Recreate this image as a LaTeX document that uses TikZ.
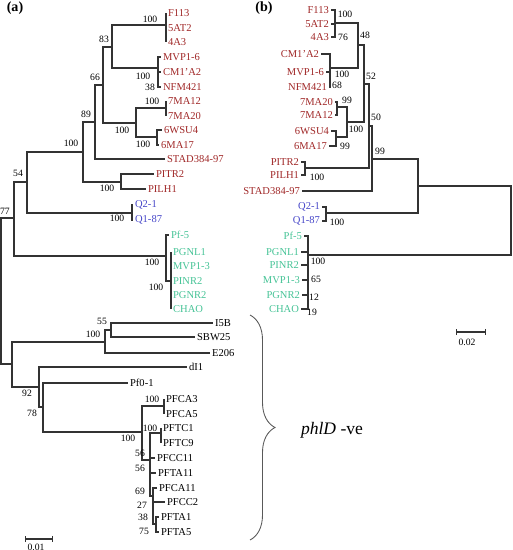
\documentclass[tikz,border=0pt]{standalone}
\usepackage{fontspec}
\setmainfont{Liberation Serif}
\usetikzlibrary{arrows.meta,decorations.pathreplacing}
\definecolor{strred}{RGB}{160,40,40}
\definecolor{strblue}{RGB}{70,70,200}
\definecolor{strgreen}{RGB}{70,195,150}

\begin{document}
\begin{tikzpicture}[x=0.02cm,y=-0.02cm,
  every node/.style={font=\fontsize{6}{7}\selectfont,inner sep=1pt},
  br/.style={line width=0.6pt,black!80},
  la/.style={anchor=west},
  lb/.style={anchor=east},
  bs/.style={font=\fontsize{5.5}{6}\selectfont,inner sep=0pt}]
\useasboundingbox (0,0) rectangle (512,550);
\node[font=\fontsize{8}{9}\selectfont\bfseries] (pa) at (15,8) {(a)};
\node[font=\fontsize{8}{9}\selectfont\bfseries] (pb) at (264,8) {(b)};

% tree (a)
\node[la,text=strred] (aF113) at (166,13) {F113};
\node[la,text=strred] (a5AT2) at (166,28) {5AT2};
\node[la,text=strred] (a4A3) at (166,42) {4A3};
\node[la,text=strred] (aMVP6) at (161,57) {MVP1-6};
\node[la,text=strred] (aCM) at (161,72) {CM1'A2};
\node[la,text=strred] (aNFM) at (161,87) {NFM421};
\node[la,text=strred] (a7M12) at (166,101) {7MA12};
\node[la,text=strred] (a7M20) at (166,116) {7MA20};
\node[la,text=strred] (a6WS) at (162,130) {6WSU4};
\node[la,text=strred] (a6MA) at (159,145) {6MA17};
\node[la,text=strred] (aSTAD) at (165,159) {STAD384-97};
\node[la,text=strred] (aPITR) at (154,174) {PITR2};
\node[la,text=strred] (aPILH) at (146,189) {PILH1};
\node[la,text=strblue] (aQ21) at (133,205) {Q2-1};
\node[la,text=strblue] (aQ187) at (133,220) {Q1-87};
\node[la,text=strgreen] (aPf5) at (169,235) {Pf-5};
\node[la,text=strgreen] (aPGNL) at (171,252) {PGNL1};
\node[la,text=strgreen] (aMVP3) at (171,266) {MVP1-3};
\node[la,text=strgreen] (aPINR) at (171,281) {PINR2};
\node[la,text=strgreen] (aPGNR) at (171,295) {PGNR2};
\node[la,text=strgreen] (aCHAO) at (171,309) {CHAO};
\node[la] (aI5B) at (213,323) {I5B};
\node[la] (aSBW) at (195,337) {SBW25};
\node[la] (aE206) at (210,353) {E206};
\node[la] (adI1) at (187,367) {dI1};
\node[la] (aPf01) at (128,383) {Pf0-1};
\node[la] (aPFCA3) at (164,399) {PFCA3};
\node[la] (aPFCA5) at (164,414) {PFCA5};
\node[la] (aPFTC1) at (161,428) {PFTC1};
\node[la] (aPFTC9) at (161,443) {PFTC9};
\node[la] (aPFCC11) at (155,458) {PFCC11};
\node[la] (aPFTA11) at (156,473) {PFTA11};
\node[la] (aPFCA11) at (157,488) {PFCA11};
\node[la] (aPFCC2) at (165,502) {PFCC2};
\node[la] (aPFTA1) at (159,517) {PFTA1};
\node[la] (aPFTA5) at (159,532) {PFTA5};

\coordinate (aF) at (166,25);
\coordinate (aM) at (158,68);
\coordinate (a83) at (112,47);
\coordinate (a7) at (166,108);
\coordinate (a6) at (157,137);
\coordinate (a7w) at (136,123);
\coordinate (a66) at (103,85);
\coordinate (a89) at (95,122);
\coordinate (aP) at (121,182);
\coordinate (aD) at (83,152);
\coordinate (aQ) at (132,213);
\coordinate (a54) at (27,182);
\coordinate (aPg) at (171,281);
\coordinate (aPf) at (166,256);
\coordinate (a77) at (14,218);
\coordinate (a55) at (111,330);
\coordinate (aI) at (105,342);
\coordinate (aCA) at (164,406);
\coordinate (aTC) at (161,433);
\coordinate (aTA) at (156,524);
\coordinate (aPL) at (153,496);
\coordinate (aPJ) at (150,460);
\coordinate (aPI) at (142,432);
\coordinate (a43) at (43,407);
\coordinate (a39) at (39,387);
\coordinate (a92) at (12,364);
\coordinate (aR) at (1,291);

\draw[br] (aF) |- (aF113.west) (aF) |- (a5AT2.west) (aF) |- (a4A3.west);
\draw[br] (aM) |- (aMVP6.west) (aM) |- (aCM.west) (aM) |- (aNFM.west);
\draw[br] (a83) |- (aF) (a83) |- (aM);
\draw[br] (a7) |- (a7M12.west) (a7) |- (a7M20.west);
\draw[br] (a6) |- (a6WS.west) (a6) |- (a6MA.west);
\draw[br] (a7w) |- (a7) (a7w) |- (a6);
\draw[br] (a66) |- (a83) (a66) |- (a7w);
\draw[br] (a89) |- (a66) (a89) |- (aSTAD.west);
\draw[br] (aP) |- (aPITR.west) (aP) |- (aPILH.west);
\draw[br] (aD) |- (a89) (aD) |- (aP);
\draw[br] (aQ) |- (aQ21.west) (aQ) |- (aQ187.west);
\draw[br] (a54) |- (aD) (a54) |- (aQ);
\draw[br] (aPg) |- (aPGNL.west) (aPg) |- (aMVP3.west) (aPg) |- (aPINR.west)
  (aPg) |- (aPGNR.west) (aPg) |- (aCHAO.west);
\draw[br] (aPf) |- (aPf5.west) (aPf) |- (aPg);
\draw[br] (a77) |- (a54) (a77) |- (aPf);
\draw[br] (a55) |- (aI5B.west) (a55) |- (aSBW.west);
\draw[br] (aI) |- (a55) (aI) |- (aE206.west);
\draw[br] (aCA) |- (aPFCA3.west) (aCA) |- (aPFCA5.west);
\draw[br] (aTC) |- (aPFTC1.west) (aTC) |- (aPFTC9.west);
\draw[br] (aTA) |- (aPFTA1.west) (aTA) |- (aPFTA5.west);
\draw[br] (aPL) |- (aPFCA11.west) (aPL) |- (aPFCC2.west) (aPL) |- (aTA);
\draw[br] (aPJ) |- (aTC) (aPJ) |- (aPFCC11.west) (aPJ) |- (aPFTA11.west) (aPJ) |- (aPL);
\draw[br] (aPI) |- (aCA) (aPI) |- (aPJ);
\draw[br] (a43) |- (aPf01.west) (a43) |- (aPI);
\draw[br] (a39) |- (adI1.west) (a39) |- (a43);
\draw[br] (a92) |- (aI) (a92) |- (a39);
\draw[br] (aR) |- (a77) (aR) |- (a92);

\node[bs] (sa01) at (150,19) {100};
\node[bs] (sa02) at (104,39) {83};
\node[bs] (sa03) at (143,76) {100};
\node[bs] (sa04) at (150,87) {38};
\node[bs] (sa05) at (95,77) {66};
\node[bs] (sa06) at (152,101) {100};
\node[bs] (sa07) at (86,114) {89};
\node[bs] (sa08) at (122,130) {100};
\node[bs] (sa09) at (143,144) {100};
\node[bs] (sa10) at (71,143) {100};
\node[bs] (sa11) at (18,173) {54};
\node[bs] (sa12) at (107,188) {100};
\node[bs] (sa13) at (5,211) {77};
\node[bs] (sa14) at (117,218) {100};
\node[bs] (sa15) at (152,262) {100};
\node[bs] (sa16) at (156,287) {100};
\node[bs] (sa17) at (102,321) {55};
\node[bs] (sa18) at (93,334) {100};
\node[bs] (sa19) at (27,393) {92};
\node[bs] (sa20) at (32,413) {78};
\node[bs] (sa21) at (152,399) {100};
\node[bs] (sa22) at (150,428) {100};
\node[bs] (sa23) at (128,438) {100};
\node[bs] (sa24) at (140,453) {56};
\node[bs] (sa25) at (140,468) {56};
\node[bs] (sa26) at (140,491) {69};
\node[bs] (sa27) at (142,505) {27};
\node[bs] (sa28) at (143,517) {38};
\node[bs] (sa29) at (144,531) {75};

\coordinate (sca1) at (25,539);
\coordinate (sca2) at (53,539);
\draw[br,{Bar[width=3.5pt]}-{Bar[width=3.5pt]}] (sca1) -- (sca2);
\node[bs] (scat) at (36,547) {0.01};

% tree (b)
\node[lb,text=strred] (bF113) at (331,10) {F113};
\node[lb,text=strred] (b5AT2) at (331,24) {5AT2};
\node[lb,text=strred] (b4A3) at (331,37) {4A3};
\node[lb,text=strred] (bCM) at (321,54) {CM1'A2};
\node[lb,text=strred] (bMVP6) at (326,72) {MVP1-6};
\node[lb,text=strred] (bNFM) at (329,87) {NFM421};
\node[lb,text=strred] (b7M20) at (335,102) {7MA20};
\node[lb,text=strred] (b7M12) at (335,115) {7MA12};
\node[lb,text=strred] (b6WS) at (331,131) {6WSU4};
\node[lb,text=strred] (b6MA) at (329,146) {6MA17};
\node[lb,text=strred] (bPITR) at (301,162) {PITR2};
\node[lb,text=strred] (bPILH) at (301,175) {PILH1};
\node[lb,text=strred] (bSTAD) at (302,191) {STAD384-97};
\node[lb,text=strblue] (bQ21) at (322,207) {Q2-1};
\node[lb,text=strblue] (bQ187) at (322,221) {Q1-87};
\node[lb,text=strgreen] (bPf5) at (304,236) {Pf-5};
\node[lb,text=strgreen] (bPGNL) at (301,252) {PGNL1};
\node[lb,text=strgreen] (bPINR) at (301,265) {PINR2};
\node[lb,text=strgreen] (bMVP3) at (302,280) {MVP1-3};
\node[lb,text=strgreen] (bPGNR) at (302,295) {PGNR2};
\node[lb,text=strgreen] (bCHAO) at (301,309) {CHAO};

\coordinate (bF) at (335,23);
\coordinate (bC) at (330,68);
\coordinate (b48) at (358,45);
\coordinate (b7) at (337,107);
\coordinate (b6) at (336,137);
\coordinate (b7w) at (347,122);
\coordinate (b52) at (364,84);
\coordinate (bP) at (305,168);
\coordinate (b50) at (369,126);
\coordinate (b99) at (372,159);
\coordinate (bQ) at (326,213);
\coordinate (bX) at (418,186);
\coordinate (bPf) at (308,255);
\coordinate (bR) at (511,220);

\draw[br] (bF) |- (bF113.east) (bF) |- (b5AT2.east) (bF) |- (b4A3.east);
\draw[br] (bC) |- (bCM.east) (bC) |- (bMVP6.east) (bC) |- (bNFM.east);
\draw[br] (b48) |- (bF) (b48) |- (bC);
\draw[br] (b7) |- (b7M20.east) (b7) |- (b7M12.east);
\draw[br] (b6) |- (b6WS.east) (b6) |- (b6MA.east);
\draw[br] (b7w) |- (b7) (b7w) |- (b6);
\draw[br] (b52) |- (b48) (b52) |- (b7w);
\draw[br] (bP) |- (bPITR.east) (bP) |- (bPILH.east);
\draw[br] (b50) |- (b52) (b50) |- (bP);
\draw[br] (b99) |- (b50) (b99) |- (bSTAD.east);
\draw[br] (bQ) |- (bQ21.east) (bQ) |- (bQ187.east);
\draw[br] (bX) |- (b99) (bX) |- (bQ);
\draw[br] (bPf) |- (bPf5.east) (bPf) |- (bPGNL.east) (bPf) |- (bPINR.east)
  (bPf) |- (bMVP3.east) (bPf) |- (bPGNR.east) (bPf) |- (bCHAO.east);
\draw[br] (bR) |- (bX) (bR) |- (bPf);

\node[bs] (sb01) at (345,14) {100};
\node[bs] (sb02) at (343,37) {76};
\node[bs] (sb03) at (365,35) {48};
\node[bs] (sb04) at (342,74) {100};
\node[bs] (sb05) at (337,85) {68};
\node[bs] (sb06) at (371,76) {52};
\node[bs] (sb07) at (347,100) {99};
\node[bs] (sb08) at (376,117) {50};
\node[bs] (sb09) at (356,129) {100};
\node[bs] (sb10) at (345,146) {99};
\node[bs] (sb11) at (380,151) {99};
\node[bs] (sb12) at (317,177) {100};
\node[bs] (sb13) at (337,222) {100};
\node[bs] (sb14) at (318,261) {100};
\node[bs] (sb15) at (316,279) {65};
\node[bs] (sb16) at (314,297) {12};
\node[bs] (sb17) at (312,312) {19};

\coordinate (scb1) at (456,332);
\coordinate (scb2) at (486,332);
\draw[br,{Bar[width=3.5pt]}-{Bar[width=3.5pt]}] (scb1) -- (scb2);
\node[bs] (scbt) at (467,342) {0.02};

% brace
\coordinate (brt) at (250,315);
\coordinate (brb) at (250,540);
\draw[line width=0.5pt,black!65,decorate,decoration={brace,amplitude=0.5cm}] (brt) -- (brb);
\node[font=\fontsize{10}{12}\selectfont] (phld) at (332,430) {\textit{phlD} -ve};
\end{tikzpicture}
\end{document}
